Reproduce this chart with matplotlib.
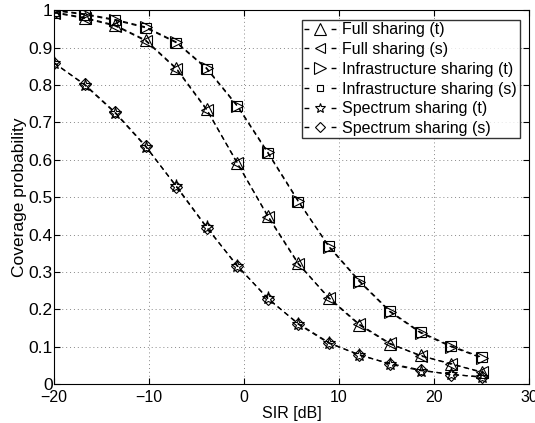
import matplotlib
matplotlib.use("Agg")
import matplotlib.pyplot as plt
import numpy as np

plt.rcParams["font.family"] = ["Liberation Sans", "DejaVu Sans"]

# SIR sample points [dB]
sir_db = [-20.0, -16.79, -13.57, -10.36, -7.14, -3.93, -0.71, 2.5,
          5.71, 8.93, 12.14, 15.36, 18.57, 21.79, 25.0]

full_t = [0.995, 0.98, 0.96, 0.92, 0.845, 0.735, 0.59, 0.45,
          0.323, 0.229, 0.158, 0.107, 0.077, 0.053, 0.033]
full_s = [0.993, 0.978, 0.958, 0.918, 0.843, 0.733, 0.592, 0.448,
          0.321, 0.231, 0.16, 0.109, 0.075, 0.055, 0.031]
infra_t = [1.0, 0.99, 0.975, 0.955, 0.915, 0.845, 0.745, 0.62,
           0.49, 0.367, 0.274, 0.193, 0.137, 0.10, 0.070]
infra_s = [0.999, 0.988, 0.973, 0.953, 0.913, 0.843, 0.743, 0.618,
           0.488, 0.369, 0.276, 0.195, 0.139, 0.102, 0.072]
spec_t = [0.86, 0.80, 0.725, 0.635, 0.53, 0.42, 0.315, 0.23,
          0.16, 0.109, 0.079, 0.053, 0.036, 0.027, 0.018]
spec_s = [0.858, 0.802, 0.727, 0.637, 0.528, 0.418, 0.317, 0.228,
          0.162, 0.111, 0.077, 0.055, 0.038, 0.025, 0.02]

# label, values, marker, size in plot, size in legend
series = [
    ("Full sharing (t)", full_t, "^", 8.5, 8),
    ("Full sharing (s)", full_s, "<", 8.5, 6.5),
    ("Infrastructure sharing (t)", infra_t, ">", 8.5, 9),
    ("Infrastructure sharing (s)", infra_s, "s", 6.5, 4),
    ("Spectrum sharing (t)", spec_t, "*", 9.5, 7),
    ("Spectrum sharing (s)", spec_s, "D", 6, 5),
]

fig = plt.figure(figsize=(5.35, 4.23), dpi=100)
ax = fig.add_axes([0.101, 0.092, 0.888, 0.884])

for label, values, marker, msize, _ in series:
    ax.plot(sir_db, values, linestyle=(0, (4, 3)), color="black", linewidth=0.9,
            marker=marker, markersize=msize, markerfacecolor="none",
            markeredgecolor="black", markeredgewidth=0.8, label=label)

ax.set_xlim(-20, 30)
ax.set_ylim(0, 1)
ax.set_xticks([-20, -10, 0, 10, 20, 30])
ax.set_xticklabels(["\u221220", "\u221210", "0", "10", "20", "30"])
ax.set_yticks(np.arange(0, 1.01, 0.1))
ax.set_yticklabels(["0", "0.1", "0.2", "0.3", "0.4", "0.5", "0.6", "0.7", "0.8", "0.9", "1"])
ax.tick_params(direction="in", length=4, top=True, right=True)
ax.tick_params(axis="x", labelsize=11.5, pad=4)
ax.tick_params(axis="y", labelsize=12.5, pad=1)
ax.grid(True, linestyle=(0, (1, 3)), color="#888888", linewidth=0.7)
ax.set_xlabel("SIR [dB]", fontsize=11.5, labelpad=1)
ax.set_ylabel("Coverage probability", fontsize=12.5, labelpad=1)

handle_len = 2.0
leg_fs = 11.5
leg = ax.legend(loc="upper right", fontsize=leg_fs, frameon=True, fancybox=False,
                edgecolor="black", handlelength=handle_len, handletextpad=0.4,
                labelspacing=0.3, borderpad=0.15, borderaxespad=0.6)
leg.get_frame().set_linewidth(1.0)
span = handle_len * leg_fs
for h, (_, _, _, _, lsize) in zip(leg.legend_handles, series):
    h.set_markersize(lsize)
    h.set_linewidth(1.0)
    h.set_dashes((3.5, span - 7))

fig.savefig("out.png", dpi=100)
